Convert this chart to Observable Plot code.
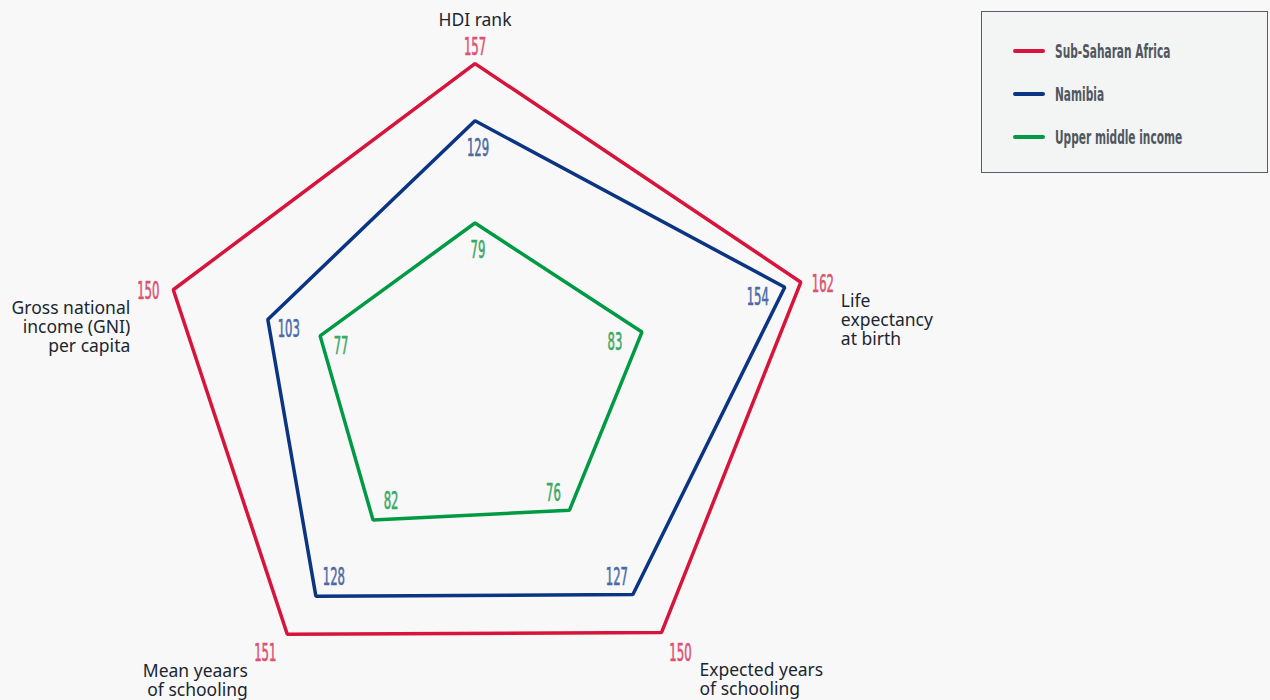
<!DOCTYPE html>
<html>
<head>
<meta charset="utf-8">
<script src="https://cdn.jsdelivr.net/npm/d3@7"></script>
<script src="https://cdn.jsdelivr.net/npm/@observablehq/plot@0.6"></script>
<style>
  html, body { margin: 0; padding: 0; background: #f8f8f8; }
  #wrap { position: relative; width: 1270px; height: 700px; overflow: hidden; }
  #legend { position: absolute; left: 981px; top: 11px; width: 285px; height: 160px;
            background: #f3f4f4; border: 1px solid #555c63; }
  .item { position: absolute; left: 31px; height: 24px; }
  .swatch { position: absolute; left: 0; top: 10px; width: 32px; height: 4px; border-radius: 2px; }
  .lbl { position: absolute; left: 42px; top: 0; line-height: 24px; white-space: nowrap;
         font-family: "DejaVu Sans Condensed", sans-serif; font-size: 19px; font-weight: bold;
         color: #50575e; transform: scaleX(0.62); transform-origin: left center; }
</style>
</head>
<body>
<div id="wrap"><div id="chart"></div><div id="legend"></div></div>
<script>
// ---- data ----
const categories = ["HDI rank", "Life\nexpectancy\nat birth", "Expected years\nof schooling", "Mean yeaars\nof schooling", "Gross national\nincome (GNI)\nper capita"];
const seriesNames = ["Sub-Saharan Africa", "Namibia", "Upper middle income"];
const ssaValues = [157, 162, 150, 151, 150];
const namibiaValues = [129, 154, 127, 128, 103];
const umiValues = [79, 83, 76, 82, 77];

// ---- styles ----
const lineColors = ["#d7143b", "#0b3583", "#009a44"];
const labelColors = ["#e0506e", "#4a6aa6", "#3aa862"];
const outerOffsets = [[0, -16], [22, 2], [19, 21], [-22, 19], [-25, 2]];
const innerOffsets = [[3, 27], [-27, 10], [-16, -17], [18, -19], [21, 10]];
const catStyle = [
  {dx: 0, dy: -43.5, textAnchor: "middle", lineAnchor: "middle"},
  {dx: 40, dy: 11, textAnchor: "start", lineAnchor: "top"},
  {dx: 38, dy: 30, textAnchor: "start", lineAnchor: "top"},
  {dx: -39.5, dy: 29, textAnchor: "end", lineAnchor: "top"},
  {dx: -43, dy: 10.5, textAnchor: "end", lineAnchor: "top"}
];

const allValues = [ssaValues, namibiaValues, umiValues];
const n = categories.length;
const ang = i => i * 2 * Math.PI / n;
const rows = seriesNames.flatMap((s, j) => allValues[j].map((v, i) => ({
  series: s, sidx: j, axis: i, value: v,
  x: v * Math.sin(ang(i)), y: v * Math.cos(ang(i))
})));
const outer = categories.map((c, i) => {
  const v = d3.max(allValues, a => a[i]);
  return {label: c, axis: i, x: v * Math.sin(ang(i)), y: v * Math.cos(ang(i))};
});

const kx = 2.115, ky = 2.044, cx = 474.5, cy = 384;
const VALUE_FONT = 24;
const marks = [
  Plot.line(rows, {x: "x", y: "y", z: "series", stroke: "series", strokeWidth: 3.5,
                   strokeLinejoin: "miter", curve: "linear-closed"})
];
rows.forEach(r => {
  const off = r.sidx === 0 ? outerOffsets[r.axis] : innerOffsets[r.axis];
  marks.push(Plot.text([r], {x: "x", y: "y", text: d => String(d.value), dx: off[0], dy: off[1],
    fill: labelColors[r.sidx], stroke: labelColors[r.sidx], strokeWidth: 0.6,
    fontSize: VALUE_FONT, fontFamily: "'DejaVu Sans Condensed', sans-serif"}));
});
outer.forEach(o => {
  const st = catStyle[o.axis];
  marks.push(Plot.text([o], {x: "x", y: "y", text: "label", ...st, lineHeight: 1.1,
    fill: "#1b2631", fontSize: 17.5, fontFamily: "'Noto Sans', sans-serif"}));
});

const chart = Plot.plot({
  width: 1270, height: 700, margin: 0,
  x: {domain: [-cx / kx, (1270 - cx) / kx], axis: null},
  y: {domain: [-(700 - cy) / ky, cy / ky], axis: null},
  color: {domain: seriesNames, range: lineColors},
  style: {background: "transparent", overflow: "visible"},
  marks
});
document.getElementById("chart").appendChild(chart);

// condense the value labels horizontally (scale about each label's anchor)
d3.select(chart).selectAll("g").filter(function () {
  return this.getAttribute("font-size") == String(VALUE_FONT);
}).selectAll("text").each(function () {
  const t = this.getAttribute("transform") || "";
  this.setAttribute("transform", `${t} scale(0.54,1)`);
});

// legend
const legend = document.getElementById("legend");
const centers = [39, 82, 125];
seriesNames.forEach((s, j) => {
  const item = document.createElement("div");
  item.className = "item";
  item.style.top = (centers[j] - 12) + "px";
  item.innerHTML = `<div class="swatch" style="background:${lineColors[j]}"></div><span class="lbl">${s}</span>`;
  legend.appendChild(item);
});
</script>
</body>
</html>
